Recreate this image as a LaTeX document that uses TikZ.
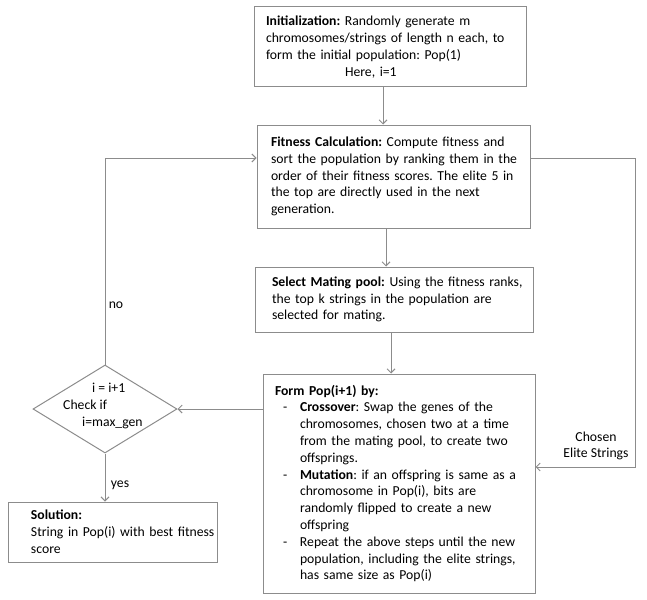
\documentclass[tikz,border=0pt]{standalone}
\usepackage{fontspec}
\setmainfont{Carlito}
\usetikzlibrary{arrows.meta,shapes.geometric}
\definecolor{lc}{RGB}{140,140,140}
\newcommand\bitem{\makebox[25pt][l]{\hspace*{8pt}-}}
\newcommand\bcont{\hspace*{25pt}}
\frenchspacing
\begin{document}
\begin{tikzpicture}[x=1pt,y=-1pt,
  every node/.style={font=\fontsize{13.7}{16.8}\selectfont\frenchspacing, text=black},
  box/.style={draw=lc, line width=1pt, inner sep=0pt, align=left},
  arr/.style={draw=lc, line width=1pt, -{Straight Barb[length=4pt,width=8pt]}},
  ln/.style={draw=lc, line width=1pt},
  lbl/.style={inner sep=0pt}]
\useasboundingbox (0,0) rectangle (647,599);
\node[box, text width=272pt, minimum height=80pt] (init) at (390,47)
 {\leftskip=12pt\textbf{Initialization:} Randomly generate m\\
  chromosomes/strings of length n each, to\\
  form the initial population: Pop(1)\\
  \hspace*{79pt}Here, i=1\par};
\node[box, text width=273pt, minimum height=103pt] (fit) at (393.5,176.5)
 {\leftskip=14pt\textbf{Fitness Calculation:} Compute fitness and\\
  sort the population by ranking them in the\\
  order of their fitness scores. The elite 5 in\\
  the top are directly used in the next\\
  generation.\par};
\node[box, text width=278pt, minimum height=65pt] (mate) at (394,299.5)
 {\leftskip=17pt\textbf{Select Mating pool:} Using the fitness ranks,\\
  the top k strings in the population are\\
  selected for mating.\par};
\node[box, text width=272pt, minimum height=219pt] (form) at (399,483.5)
 {\leftskip=12pt\textbf{Form Pop(i+1) by:}\\
  \bitem\textbf{Crossover}: Swap the genes of the\\
  \bcont chromosomes, chosen two at a time\\
  \bcont from the mating pool, to create two\\
  \bcont offsprings.\\
  \bitem\textbf{Mutation}: if an offspring is same as a\\
  \bcont chromosome in Pop(i), bits are\\
  \bcont randomly flipped to create a new\\
  \bcont offspring\\
  \bitem Repeat the above steps until the new\\
  \bcont population, including the elite strings,\\
  \bcont has same size as Pop(i)\par};
\node[box, text width=209pt, minimum height=60pt] (sol) at (112.5,532)
 {\leftskip=23pt\textbf{Solution:}\\
  String in Pop(i) with best fitness\\
  score\par};
\node[draw=lc, line width=1pt, diamond, inner sep=0pt, minimum width=144pt, minimum height=88pt] (dia) at (105,409) {};
\node[lbl, anchor=west, align=left] (dtext) at (63,406)
 {\hspace*{29pt}i = i+1\\ Check if\\ \hspace*{19pt}i=max\_gen};
\node[lbl] (no) at (116,305) {no};
\node[lbl] (yes) at (120,485) {yes};
\node[lbl, align=center] (elite) at (596,446) {Chosen\\Elite Strings};
\coordinate (rc) at (635,300);
\draw[arr] ([xshift=-7pt]init.south) -- ([xshift=-7pt]init.south |- fit.north);
\draw[arr] ([xshift=-7.5pt]fit.south) -- ([xshift=-7.5pt]fit.south |- mate.north);
\draw[arr] ([xshift=-3pt]mate.south) -- ([xshift=-3pt]mate.south |- form.north);
\draw[arr] (form.west |- dia.east) -- (dia.east);
\draw[arr] (dia.north) |- ([yshift=18.5pt]fit.west);
\draw[arr] ([yshift=18.5pt]fit.east) -| (rc) |- ([yshift=16.5pt]form.east);
\draw[arr] (dia.south) -- (dia.south |- sol.north);
\end{tikzpicture}
\end{document}
